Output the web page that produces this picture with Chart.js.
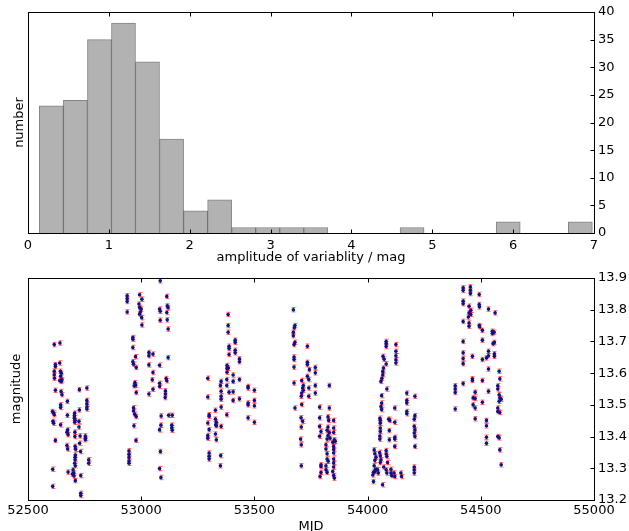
<!DOCTYPE html>
<html>
<head>
<meta charset="utf-8">
<script src="https://cdn.jsdelivr.net/npm/chart.js@4.4.1/dist/chart.umd.min.js"></script>
<style>
  html, body { margin: 0; padding: 0; background: #fff; overflow: hidden; }
  #wrap { position: relative; width: 629px; height: 531px; }
  canvas { position: absolute; left: 0; }
</style>
</head>
<body>
<div id="wrap">
  <canvas id="hist" width="629" height="265" style="top:0"></canvas>
  <canvas id="lc" width="629" height="266" style="top:265px"></canvas>
</div>
<script>
/* Amplitude histogram (top) + light curve with error bars (bottom). */

// histogram: bin centres (mag) and counts
const binCentres = [0.289, 0.586, 0.884, 1.181, 1.478, 1.776, 2.073, 2.370, 2.668, 2.965, 3.263, 3.560,
  3.857, 4.155, 4.452, 4.750, 5.047, 5.344, 5.642, 5.939, 6.237, 6.534, 6.831];
const binCounts = [23, 24, 35, 38, 31, 17, 4, 6, 1, 1, 1, 1, 0, 0, 0, 1, 0, 0, 0, 2, 0, 0, 2];
const ampTicks = [0, 1, 2, 3, 4, 5, 6, 7];
const countTicks = [0, 5, 10, 15, 20, 25, 30, 35, 40];

// light curve, one list of [MJD, mag] per observing season
const season1 = [[52616,13.690],[52641,13.695],[52621,13.627],[52621,13.621],[52640,13.632],[52616,13.606],[52616,13.595],[52617,13.584],
  [52643,13.606],[52647,13.600],[52644,13.590],[52650,13.579],[52647,13.574],[52640,13.577],[52621,13.546],[52646,13.542],[52650,13.532],
  [52727,13.548],[52760,13.553],[52674,13.511],[52644,13.500],[52644,13.492],[52760,13.514],[52760,13.503],[52760,13.493],[52760,13.487],
  [52727,13.484],[52608,13.479],[52613,13.474],[52616,13.469],[52674,13.467],[52706,13.474],[52705,13.466],[52705,13.458],[52708,13.451],
  [52706,13.445],[52725,13.448],[52610,13.448],[52613,13.442],[52644,13.437],[52725,13.430],[52675,13.421],[52672,13.414],[52677,13.406],
  [52707,13.414],[52707,13.400],[52730,13.402],[52753,13.402],[52754,13.395],[52753,13.390],[52621,13.388],[52728,13.379],[52672,13.372],
  [52675,13.361],[52708,13.369],[52710,13.360],[52732,13.353],[52709,13.342],[52708,13.335],[52708,13.327],[52706,13.316],[52709,13.308],
  [52768,13.327],[52768,13.316],[52609,13.297],[52677,13.288],[52699,13.295],[52702,13.285],[52703,13.276],[52696,13.282],[52733,13.277],
  [52709,13.261],[52609,13.243],[52733,13.221],[52733,13.214]];
const season2 = [[53084,13.891],[52938,13.844],[52938,13.835],[52938,13.826],[52938,13.793],[52993,13.847],[53003,13.833],[52990,13.818],
  [52993,13.807],[53000,13.802],[52996,13.793],[52993,13.786],[53002,13.775],[53003,13.752],[53081,13.802],[53084,13.795],[53084,13.767],
  [53113,13.842],[53115,13.812],[53119,13.807],[53113,13.791],[53115,13.768],[53119,13.739],[52963,13.712],[52963,13.707],[52963,13.681],
  [52975,13.652],[52963,13.636],[52966,13.628],[52978,13.618],[53034,13.665],[53034,13.655],[53052,13.660],[53034,13.626],[53081,13.625],
  [53119,13.649],[53052,13.602],[53049,13.579],[52972,13.570],[52975,13.562],[52969,13.560],[52978,13.539],[53052,13.549],[53034,13.534],
  [53081,13.568],[53081,13.558],[53110,13.583],[53113,13.576],[53107,13.544],[53107,13.534],[53106,13.523],[52966,13.491],[52966,13.481],
  [52971,13.470],[52978,13.463],[52968,13.434],[53088,13.465],[53087,13.436],[53081,13.421],[53121,13.467],[53137,13.467],[53135,13.436],
  [53135,13.428],[53137,13.420],[52977,13.388],[52946,13.355],[52946,13.344],[52946,13.334],[52946,13.323],[52946,13.316],[53085,13.353],
  [53081,13.299],[53087,13.271]];
const season3 = [[53384,13.785],[53384,13.750],[53384,13.729],[53415,13.704],[53415,13.697],[53388,13.685],[53388,13.678],[53415,13.672],
  [53415,13.664],[53388,13.659],[53434,13.645],[53434,13.636],[53379,13.624],[53385,13.616],[53379,13.615],[53379,13.603],[53406,13.594],
  [53294,13.584],[53353,13.574],[53350,13.561],[53378,13.580],[53378,13.561],[53406,13.574],[53434,13.580],[53472,13.558],[53472,13.553],
  [53500,13.546],[53353,13.543],[53353,13.527],[53353,13.518],[53388,13.540],[53406,13.541],[53294,13.525],[53406,13.514],[53434,13.519],
  [53472,13.506],[53472,13.500],[53500,13.514],[53500,13.497],[53353,13.493],[53328,13.483],[53300,13.469],[53300,13.464],[53378,13.469],
  [53328,13.455],[53332,13.445],[53332,13.434],[53329,13.437],[53353,13.432],[53472,13.459],[53500,13.445],[53294,13.443],[53300,13.422],
  [53294,13.403],[53294,13.395],[53328,13.408],[53332,13.390],[53300,13.348],[53300,13.338],[53300,13.329],[53351,13.340],[53350,13.308]];
const season4 = [[53672,13.800],[53679,13.750],[53676,13.743],[53672,13.729],[53672,13.718],[53679,13.697],[53675,13.690],[53734,13.685],
  [53675,13.651],[53675,13.643],[53675,13.619],[53734,13.634],[53734,13.627],[53743,13.611],[53769,13.618],[53769,13.601],[53734,13.590],
  [53740,13.580],[53709,13.577],[53675,13.569],[53716,13.561],[53713,13.553],[53716,13.546],[53709,13.537],[53707,13.527],[53740,13.553],
  [53769,13.561],[53769,13.537],[53740,13.527],[53831,13.561],[53709,13.501],[53679,13.490],[53788,13.493],[53831,13.490],[53706,13.459],
  [53713,13.448],[53788,13.459],[53825,13.462],[53828,13.451],[53707,13.430],[53850,13.451],[53788,13.432],[53794,13.416],[53825,13.430],
  [53821,13.420],[53831,13.413],[53850,13.427],[53850,13.413],[53788,13.401],[53825,13.403],[53821,13.392],[53834,13.395],[53853,13.390],
  [53846,13.382],[53857,13.385],[53704,13.392],[53707,13.374],[53816,13.374],[53816,13.361],[53850,13.369],[53850,13.359],[53850,13.348],
  [53821,13.346],[53821,13.329],[53826,13.322],[53850,13.329],[53850,13.317],[53850,13.304],[53816,13.308],[53816,13.295],[53821,13.287],
  [53846,13.290],[53850,13.277],[53853,13.269],[53794,13.311],[53794,13.306],[53794,13.287],[53790,13.274],[53707,13.308]];
const season5 = [[54082,13.700],[54082,13.693],[54082,13.684],[54125,13.690],[54125,13.669],[54125,13.655],[54125,13.642],[54125,13.632],
  [54068,13.653],[54073,13.644],[54082,13.629],[54070,13.616],[54067,13.605],[54067,13.595],[54063,13.584],[54059,13.574],[54085,13.550],
  [54173,13.537],[54209,13.527],[54062,13.529],[54173,13.514],[54173,13.506],[54062,13.506],[54059,13.495],[54062,13.485],[54120,13.490],
  [54173,13.479],[54173,13.472],[54209,13.466],[54206,13.455],[54054,13.458],[54056,13.451],[54056,13.442],[54093,13.455],[54098,13.451],
  [54120,13.445],[54206,13.432],[54209,13.421],[54206,13.411],[54209,13.400],[54056,13.427],[54056,13.416],[54096,13.419],[54054,13.402],
  [54054,13.392],[54120,13.398],[54120,13.392],[54096,13.390],[54120,13.369],[54209,13.369],[54029,13.358],[54032,13.346],[54053,13.350],
  [54056,13.339],[54082,13.356],[54082,13.345],[54085,13.337],[54037,13.335],[54032,13.325],[54059,13.327],[54056,13.318],[54088,13.318],
  [54029,13.308],[54035,13.297],[54026,13.287],[54023,13.279],[54032,13.290],[54044,13.295],[54047,13.285],[54071,13.304],[54082,13.295],
  [54085,13.285],[54103,13.297],[54103,13.285],[54106,13.277],[54117,13.285],[54120,13.274],[54147,13.285],[54150,13.274],[54206,13.304],
  [54206,13.295],[54206,13.285],[54026,13.258],[54066,13.248]];
const season6 = [[54422,13.869],[54422,13.861],[54454,13.872],[54454,13.861],[54454,13.851],[54493,13.848],[54422,13.827],[54422,13.819],
  [54448,13.811],[54456,13.798],[54493,13.816],[54494,13.809],[54534,13.802],[54563,13.790],[54448,13.790],[54456,13.785],[54445,13.777],
  [54422,13.763],[54448,13.758],[54448,13.748],[54493,13.750],[54495,13.746],[54507,13.735],[54551,13.732],[54551,13.725],[54559,13.729],
  [54422,13.700],[54507,13.704],[54554,13.693],[54560,13.697],[54422,13.664],[54422,13.646],[54422,13.630],[54463,13.653],[54534,13.669],
  [54534,13.655],[54525,13.648],[54507,13.643],[54560,13.661],[54560,13.653],[54534,13.613],[54581,13.606],[54584,13.582],[54463,13.582],
  [54463,13.577],[54507,13.577],[54422,13.567],[54387,13.560],[54387,13.550],[54387,13.539],[54575,13.560],[54575,13.550],[54581,13.532],
  [54584,13.522],[54590,13.518],[54581,13.511],[54475,13.540],[54534,13.543],[54466,13.522],[54475,13.520],[54507,13.508],[54466,13.500],
  [54475,13.490],[54387,13.487],[54575,13.490],[54575,13.479],[54584,13.476],[54475,13.456],[54525,13.451],[54525,13.434],[54575,13.400],
  [54581,13.396],[54525,13.398],[54525,13.379],[54584,13.358],[54590,13.311]];
const magErr = 0.007;   // photometric error, about the same for every point
const mjdTicks = [52500, 53000, 53500, 54000, 54500, 55000];
const magTicks = [13.2, 13.3, 13.4, 13.5, 13.6, 13.7, 13.8, 13.9];

Chart.defaults.font.family = "'DejaVu Sans', sans-serif";
Chart.defaults.font.size = 13;
Chart.defaults.color = "#000";
Chart.defaults.animation = false;

// matplotlib-ish frame: box round the plot area, inward ticks top/bottom and right
const frame = {
  id: "frame",
  afterDatasetsDraw(chart) {
    const { ctx, chartArea: a, scales } = chart;
    const L = 4, x0 = Math.round(a.left) + 0.5, x1 = Math.round(a.right) + 0.5;
    const y0 = Math.round(a.top) + 0.5, y1 = Math.round(a.bottom) + 0.5;
    ctx.save();
    ctx.strokeStyle = "#000"; ctx.lineWidth = 1;
    ctx.beginPath();
    scales.x.ticks.forEach((t) => {
      const x = Math.round(scales.x.getPixelForValue(t.value)) + 0.5;
      ctx.moveTo(x, y0); ctx.lineTo(x, y0 + L);
      ctx.moveTo(x, y1); ctx.lineTo(x, y1 - L);
    });
    scales.y.ticks.forEach((t) => {
      const y = Math.round(scales.y.getPixelForValue(t.value)) + 0.5;
      ctx.moveTo(x1, y); ctx.lineTo(x1 - L, y);
    });
    ctx.stroke();
    ctx.strokeRect(x0, y0, x1 - x0, y1 - y0);
    ctx.restore();
  }
};

// red error bars with caps, drawn under the dots
const errorBars = {
  id: "errorBars",
  beforeDatasetsDraw(chart) {
    const { ctx, scales: { x, y }, chartArea: a } = chart;
    ctx.save();
    ctx.beginPath(); ctx.rect(a.left, a.top, a.right - a.left, a.bottom - a.top); ctx.clip();
    ctx.strokeStyle = "rgba(255,0,0,0.6)"; ctx.lineWidth = 1;
    ctx.beginPath();
    chart.data.datasets[0].data.forEach((p) => {
      const px = Math.round(x.getPixelForValue(p.x)) + 0.5;
      const lo = y.getPixelForValue(p.y - magErr), hi = y.getPixelForValue(p.y + magErr);
      ctx.moveTo(px, lo); ctx.lineTo(px, hi);
      ctx.moveTo(px - 2, lo); ctx.lineTo(px + 2, lo);
      ctx.moveTo(px - 2, hi); ctx.lineTo(px + 2, hi);
    });
    ctx.stroke();
    ctx.restore();
  }
};

const fixW = (w) => (s) => { s.width = w; };
const fixH = (h) => (s) => { s.height = h; };

new Chart(document.getElementById("hist"), {
  type: "bar",
  data: {
    datasets: [{
      data: binCentres.map((c, i) => ({ x: c, y: binCounts[i] })),
      backgroundColor: "#b2b2b2",
      borderColor: "rgba(50,50,50,0.6)",
      borderWidth: 1,
      borderSkipped: "start",
      barPercentage: 1,
      categoryPercentage: 1,
    }]
  },
  options: {
    responsive: false,
    layout: { padding: { top: 12, left: 0, right: 0, bottom: 0 } },
    plugins: { legend: { display: false }, tooltip: { enabled: false } },
    scales: {
      x: {
        type: "linear", offset: false, min: 0, max: 7,
        afterBuildTicks: (s) => { s.ticks = ampTicks.map((v) => ({ value: v })); },
        ticks: { padding: 5, autoSkip: false, maxRotation: 0, callback: (v) => String(v) },
        grid: { display: false, drawTicks: false }, border: { display: false },
        title: { display: true, text: "amplitude of variablity / mag", padding: { top: 0, bottom: 0 } },
        afterFit: fixH(32),
      },
      y: {
        position: "right", min: 0, max: 40,
        afterBuildTicks: (s) => { s.ticks = countTicks.map((v) => ({ value: v })); },
        ticks: { padding: 4, callback: (v) => String(v) },
        grid: { display: false, drawTicks: false }, border: { display: false },
        afterFit: fixW(35),
      },
      yl: {
        position: "left", min: 0, max: 1,
        ticks: { display: false }, grid: { display: false, drawTicks: false }, border: { display: false },
        title: { display: true, text: "number", padding: { top: 12, bottom: 0 } },
        afterFit: fixW(28),
      }
    }
  },
  plugins: [frame]
});

const lightCurve = [].concat(season1, season2, season3, season4, season5, season6);

new Chart(document.getElementById("lc"), {
  type: "scatter",
  data: {
    datasets: [{
      data: lightCurve.map(([m, g]) => ({ x: m, y: g })),
      pointRadius: 1.8,
      pointBorderWidth: 0,
      backgroundColor: "#10108a",
      borderColor: "#10108a",
    }]
  },
  options: {
    responsive: false,
    layout: { padding: { top: 13, left: 0, right: 0, bottom: 0 } },
    plugins: { legend: { display: false }, tooltip: { enabled: false } },
    scales: {
      x: {
        type: "linear", min: 52500, max: 55000,
        afterBuildTicks: (s) => { s.ticks = mjdTicks.map((v) => ({ value: v })); },
        ticks: { padding: 3, autoSkip: false, maxRotation: 0, callback: (v) => String(v) },
        grid: { display: false, drawTicks: false }, border: { display: false },
        title: { display: true, text: "MJD", padding: { top: 0, bottom: -3 } },
        afterFit: fixH(31),
      },
      y: {
        position: "right", min: 13.2, max: 13.9,
        afterBuildTicks: (s) => { s.ticks = magTicks.map((v) => ({ value: v })); },
        ticks: { padding: 4, callback: (v) => Number(v).toFixed(1) },
        grid: { display: false, drawTicks: false }, border: { display: false },
        afterFit: fixW(35),
      },
      yl: {
        position: "left", min: 0, max: 1,
        ticks: { display: false }, grid: { display: false, drawTicks: false }, border: { display: false },
        title: { display: true, text: "magnitude", padding: { top: 9, bottom: 0 } },
        afterFit: fixW(28),
      }
    }
  },
  plugins: [errorBars, frame]
});
</script>
</body>
</html>
